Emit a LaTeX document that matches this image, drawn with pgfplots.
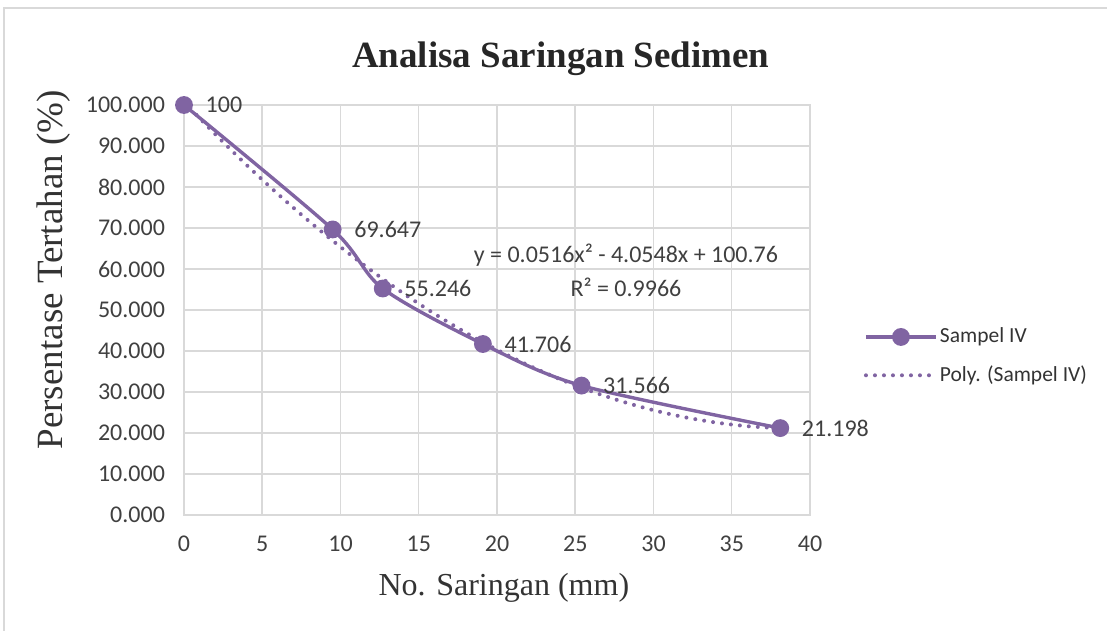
\documentclass[border=0pt]{standalone}
\usepackage{pgfplots}
\pgfplotsset{compat=1.18}
\usepackage{fontspec}
\setmainfont{Liberation Serif}
\newfontfamily\calfont{Carlito}
\definecolor{serc}{RGB}{128,100,162}
\definecolor{gridc}{RGB}{217,217,217}
\begin{document}
\begin{tikzpicture}
\begin{axis}[
  at={(0,0)}, anchor=south west,
  scale only axis,
  width=313pt, height=205pt,
  xmin=0, xmax=40, ymin=0, ymax=100,
  xtick={0,5,...,40},
  ytick={0,10,...,100},
  grid=major,
  major grid style={draw=gridc, line width=0.75pt},
  axis line style={draw=gridc, line width=0.75pt},
  major tick length=0pt,
  tick label style={font=\calfont\fontsize{12}{14}\selectfont, text=black!75},
  /pgf/number format/assume math mode=true,
  yticklabel style={/pgf/number format/fixed, /pgf/number format/fixed zerofill, /pgf/number format/precision=3, /pgf/number format/1000 sep={}, xshift=-6pt},
  xticklabel style={yshift=-7pt},
  title={Analisa Saringan Sedimen},
  title style={at={(axis description cs:0.602,1.083)}, anchor=center, yshift=0pt, font=\fontsize{18.5}{22}\selectfont\bfseries, text=black!85},
  xlabel={No. Saringan (mm)},
  xlabel style={at={(axis description cs:0.511,-0.177)}, anchor=center, font=\fontsize{16}{19}\selectfont, text=black!80},
  ylabel={Persentase Tertahan (\%)},
  ylabel style={at={(axis description cs:-0.208,0.598)}, anchor=center, font=\fontsize{18.5}{21}\selectfont, text=black!80},
  legend style={at={(axis description cs:1.076,0.387)}, anchor=west, draw=none, fill=none,
    font=\calfont\fontsize{10.75}{13}\selectfont, text=black!80, row sep=8pt,
    nodes={inner sep=1pt}},
  legend cell align=left,
  legend image code/.code={\draw[mark repeat=2, mark phase=2, #1] plot coordinates {(0pt,0pt) (17.5pt,0pt) (35pt,0pt)};},
  clip=false,
]
\addplot[color=serc, line width=1.7pt, smooth, tension=0.5, mark=*, mark size=3.6pt,
  mark options={solid, fill=serc, draw=serc},
  point meta=explicit symbolic,
  nodes near coords,
  nodes near coords style={anchor=west, xshift=9pt, inner sep=1pt, font=\calfont\fontsize{12}{14}\selectfont, text=black!75}]
  coordinates {
  (0,100) [100]
  (9.5,69.647) [69.647]
  (12.7,55.246) [55.246]
  (19.1,41.706) [41.706]
  (25.4,31.566) [31.566]
  (38.1,21.198) [21.198]
  };
\addlegendentry{Sampel IV}
\addplot[color=serc, line width=2pt, line cap=round, dash pattern=on 0pt off 4.5pt, smooth, no markers]
  coordinates {
  (0,100.76) (2,92.857) (4,85.366) (6,78.289) (8,71.624) (10,65.372)
  (12,59.533) (14,54.106) (16,49.093) (18,44.492) (20,40.304) (22,36.529)
  (24,33.166) (26,30.217) (28,27.680) (30,25.556) (32,23.845) (34,22.546)
  (36,21.661) (38.1,21.175)
  };
\addlegendentry{Poly. (Sampel IV)}
\node[font=\calfont\fontsize{12}{14}\selectfont, text=black!75, anchor=center] at (axis cs:28.24,63.4) {y = 0.0516x² - 4.0548x + 100.76};
\node[font=\calfont\fontsize{12}{14}\selectfont, text=black!75, anchor=center] at (axis cs:28.24,55.6) {R² = 0.9966};
\end{axis}
\draw[color=gridc, line width=1pt] (-90pt,-58pt) -- (-90pt,253.5pt) -- (461.5pt,253.5pt);
\pgfresetboundingbox
\path (-92pt,-58pt) rectangle (461.5pt,257.5pt);
\end{tikzpicture}
\end{document}
